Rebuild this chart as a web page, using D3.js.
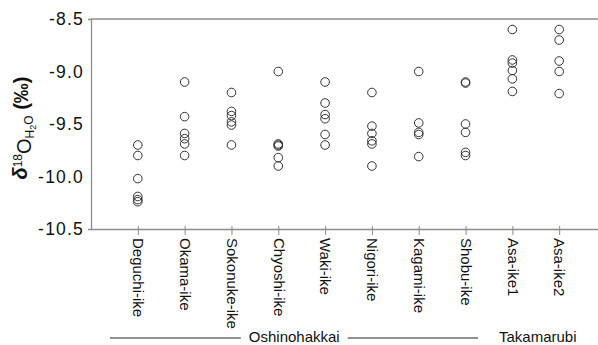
<!DOCTYPE html>
<html>
<head>
<meta charset="utf-8">
<script src="https://cdn.jsdelivr.net/npm/d3@7"></script>
<style>
  html, body { margin: 0; padding: 0; background: #fff; }
  svg { display: block; }
  text { font-family: "Liberation Sans", Arial, Helvetica, sans-serif; fill: #111; }
</style>
</head>
<body>
<svg id="chart" width="598" height="345"></svg>
<script>
// Ponds sampled, in order along the x axis
const ponds = ["Deguchi-ike", "Okama-ike", "Sokonuke-ike", "Chyoshi-ike", "Waki-ike",
               "Nigori-ike", "Kagami-ike", "Shobu-ike", "Asa-ike1", "Asa-ike2"];

// δ18O of pond water (‰), one array per pond
const deguchi  = [-9.70, -9.80, -10.02, -10.19, -10.22, -10.24];
const okama    = [-9.10, -9.43, -9.59, -9.64, -9.69, -9.80];
const sokonuke = [-9.20, -9.38, -9.42, -9.48, -9.51, -9.70];
const chyoshi  = [-9.00, -9.69, -9.70, -9.71, -9.82, -9.90];
const waki     = [-9.10, -9.30, -9.41, -9.45, -9.60, -9.70];
const nigori   = [-9.20, -9.52, -9.59, -9.66, -9.69, -9.90];
const kagami   = [-9.00, -9.49, -9.58, -9.60, -9.81];
const shobu    = [-9.10, -9.11, -9.50, -9.58, -9.77, -9.80];
const asa1     = [-8.60, -8.89, -8.92, -8.99, -9.07, -9.19];
const asa2     = [-8.60, -8.70, -8.90, -9.00, -9.21];

const seriesValues = [deguchi, okama, sokonuke, chyoshi, waki, nigori, kagami, shobu, asa1, asa2];

// Y axis ticks
const yTicks = [-8.5, -9.0, -9.5, -10.0, -10.5];

// Site groups shown under the pond names
const groups = ["Oshinohakkai", "Takamarubi"];

const svg = d3.select("#chart");
const plotLeft = 91, plotRight = 606, plotTop = 19, plotBottom = 229;
const axisColor = "#8c8c8c";

const x = d3.scalePoint().domain(ponds).range([plotLeft, plotRight]).padding(1);
const y = d3.scaleLinear().domain([-10.5, -8.5]).range([plotBottom, plotTop]);

// top frame line
svg.append("line")
  .attr("x1", plotLeft).attr("x2", 598).attr("y1", plotTop).attr("y2", plotTop)
  .attr("stroke", axisColor).attr("stroke-width", 1.5);

// left axis
const yAxis = svg.append("g")
  .attr("transform", `translate(${plotLeft},0)`)
  .call(d3.axisLeft(y).tickValues(yTicks).tickFormat(d => d.toFixed(1))
        .tickSizeInner(0).tickSizeOuter(3).tickPadding(7));
yAxis.select(".domain").attr("stroke", axisColor).attr("stroke-width", 1.3);
yAxis.selectAll("text")
  .style("font-size", "17.5px").style("letter-spacing", "1.2px").attr("fill", "#111");

// bottom axis
const xAxis = svg.append("g")
  .attr("transform", `translate(0,${plotBottom})`)
  .call(d3.axisBottom(x).tickSizeInner(6).tickSizeOuter(0).tickPadding(0));
xAxis.select(".domain").attr("stroke", axisColor).attr("stroke-width", 1.3);
xAxis.selectAll(".tick line").attr("stroke", axisColor).attr("y1", -3);
xAxis.selectAll(".tick text")
  .attr("transform", "rotate(90)")
  .attr("text-anchor", "start")
  .attr("x", 9).attr("y", 0).attr("dy", "0.35em")
  .style("font-size", "15px").attr("fill", "#111");

// points
const pts = [];
seriesValues.forEach((vals, i) => vals.forEach(v => pts.push({ pond: ponds[i], v })));
svg.append("g").selectAll("circle").data(pts).join("circle")
  .attr("cx", d => x(d.pond))
  .attr("cy", d => y(d.v))
  .attr("r", 4.3)
  .attr("fill", "none")
  .attr("stroke", "#333")
  .attr("stroke-width", 1);

// y axis title: δ18O(H2O) (‰)
const titleG = svg.append("g");
const title = titleG.append("text")
  .attr("text-anchor", "start")
  .style("font-size", "20px");
title.append("tspan").text("δ").style("font-style", "italic").style("font-weight", "bold");
title.append("tspan").text("18").attr("dy", "-0.45em").style("font-size", "12px");
title.append("tspan").text("O").attr("dy", "0.45em");
title.append("tspan").text("H").attr("dy", "0.3em").style("font-size", "12px");
title.append("tspan").text("2").attr("dy", "0.15em").style("font-size", "9px");
title.append("tspan").text("O").attr("dy", "-0.2em").style("font-size", "12px");
title.append("tspan").text(" (‰)").attr("dy", "-0.25em").style("font-weight", "bold");
const tb = title.node().getBBox();
title.attr("x", -(tb.x + tb.width / 2));
titleG.attr("transform", "translate(27,128) rotate(-90)");

// group labels with bracket lines
const gy = 342, ly = 338;
const g0 = svg.append("text").attr("x", x(ponds[3]) + 16).attr("y", gy)
  .attr("text-anchor", "middle").style("font-size", "15px").text(groups[0]);
svg.append("text").attr("x", (x(ponds[8]) + x(ponds[9])) / 2 + 2).attr("y", gy)
  .attr("text-anchor", "middle").style("font-size", "15px").text(groups[1]);
const bb = g0.node().getBBox();
svg.append("line").attr("x1", 110).attr("x2", bb.x - 8).attr("y1", ly).attr("y2", ly)
  .attr("stroke", "#222").attr("stroke-width", 1);
svg.append("line").attr("x1", bb.x + bb.width + 8).attr("x2", 478).attr("y1", ly).attr("y2", ly)
  .attr("stroke", "#222").attr("stroke-width", 1);
</script>
</body>
</html>
